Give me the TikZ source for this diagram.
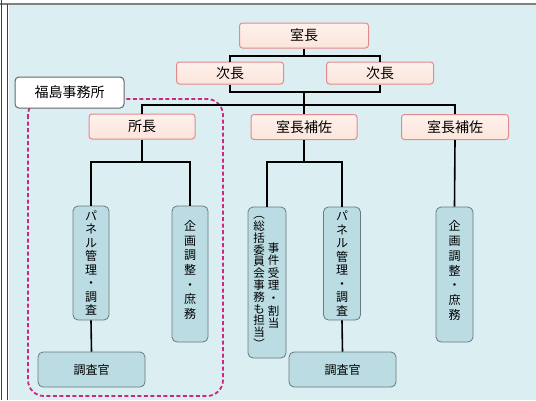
\documentclass[tikz,border=0pt]{standalone}
\usepackage{fontspec}
\newfontfamily\jp{Noto Sans CJK JP}
\definecolor{bgcyan}{RGB}{219,239,243}
\definecolor{pinkfill}{RGB}{252,229,219}
\definecolor{pinkline}{RGB}{226,138,142}
\definecolor{tealfill}{RGB}{186,220,226}
\definecolor{tealline}{RGB}{105,122,126}
\definecolor{dashmag}{RGB}{205,40,125}
\begin{document}
\begin{tikzpicture}[x=1pt,y=-1pt,
  pinkbox/.style={draw=pinkline, top color=pinkfill!55, bottom color=pinkfill, rounded corners=3pt, line width=1pt,
    minimum width=106pt, minimum height=25pt, inner sep=0pt,
    font=\jp\fontsize{14}{14}\selectfont},
  tealbox/.style={draw=tealline, fill=tealfill, rounded corners=5pt, line width=0.8pt,
    inner sep=0pt, align=center},
  vtext/.style={inner sep=0pt, align=center, font=\jp\fontsize{12}{13.5}\selectfont},
  vtextsm/.style={inner sep=0pt, align=center, font=\jp\fontsize{11.5}{11.8}\selectfont},
  conn/.style={draw=black, line width=1.6pt}]
\useasboundingbox (0,0) rectangle (536,400);
\fill[white] (0,0) rectangle (536,400);
\fill[bgcyan] (9,5) rectangle (536,400);
\draw[gray, line width=2pt] (0,4) -- (536,4);
\draw[black!75, line width=1pt] (1.5,0) -- (1.5,400);
\draw[black!75, line width=1pt] (7.5,4) -- (7.5,400);

% dashed group
\draw[dashmag, line width=1.8pt, dash pattern=on 4pt off 2.5pt, rounded corners=16pt]
  (28,99) rectangle (223,396);
\node[draw=black!60, fill=white, rounded corners=4pt, line width=1pt, inner sep=0pt,
  minimum width=109pt, minimum height=31pt, font=\jp\fontsize{14}{14}\selectfont]
  (fukushima) at (69.5,92.5) {福島事務所};

% top level
\node[pinkbox, minimum width=129pt] (shitsu) at (304,35.5) {室長};
\node[pinkbox, minimum width=107pt, minimum height=22pt] (j1) at (230,73) {次長};
\node[pinkbox, minimum width=107pt, minimum height=22pt] (j2) at (380,73) {次長};
\node[pinkbox] (shocho) at (142,126.5) {所長};
\node[pinkbox] (hosa1) at (304,127) {室長補佐};
\node[pinkbox, minimum width=107pt] (hosa2) at (455,127) {室長補佐};

% tall boxes
\node[tealbox, minimum width=36pt, minimum height=114pt] (p1) at (91,263) {};
\node[vtext] (p1t) at (p1.center) {パ\\ネ\\ル\\管\\理\\・\\調\\査};
\node[tealbox, minimum width=36pt, minimum height=136pt] (k1) at (190,274) {};
\node[vtext, font=\jp\fontsize{12}{14.7}\selectfont] (k1t) at ([yshift=4pt]k1.center) {企\\画\\調\\整\\・\\庶\\務};

\node[tealbox, minimum width=38pt, minimum height=151pt] (sokatsu) at (267,282.5) {};
\node[vtextsm] (sokL) at ([xshift=-8pt]sokatsu.center) {︵\\総\\括\\委\\員\\会\\事\\務\\も\\担\\当\\︶};
\node[vtextsm, font=\jp\fontsize{11.5}{12.6}\selectfont] (sokR) at ([xshift=6.5pt,yshift=-3pt]sokatsu.center) {事\\件\\受\\理\\・\\割\\当};

\node[tealbox, minimum width=37pt, minimum height=113pt] (p2) at (342,263.5) {};
\node[vtext] (p2t) at (p2.center) {パ\\ネ\\ル\\管\\理\\・\\調\\査};
\node[tealbox, minimum width=37pt, minimum height=135pt] (k2) at (454.5,274.5) {};
\node[vtext, font=\jp\fontsize{12}{14.7}\selectfont] (k2t) at ([yshift=4pt]k2.center) {企\\画\\調\\整\\・\\庶\\務};

\node[tealbox, minimum width=107pt, minimum height=35pt, font=\jp\fontsize{12}{12}\selectfont] (ch1) at (91.5,369.5) {調査官};
\node[tealbox, minimum width=107pt, minimum height=35pt, font=\jp\fontsize{12}{12}\selectfont] (ch2) at (342.5,369.5) {調査官};

% connectors
\coordinate (b1) at (304,56);
\coordinate (b2) at (304,92);
\coordinate (b3) at (304,105);
\coordinate (c1) at (142,162);
\coordinate (c2) at (304,162);
\draw[conn] (shitsu.south) -- (b1);
\draw[conn] (j1.north) |- (b1) -| (j2.north);
\draw[conn] (j1.south) |- (b2) -| (j2.south);
\draw[conn] (b2) -- (hosa1.north);
\draw[conn] (shocho.north) |- (b3) -| (hosa2.north);
\draw[conn] (shocho.south) -- (c1);
\draw[conn] (p1.north) |- (c1) -| (k1.north);
\draw[conn] (hosa1.south) -- (c2);
\draw[conn] (sokatsu.north) |- (c2) -| (p2.north);
\draw[conn] (hosa2.south) -- (k2.north);
\draw[conn] (p1.south) -- (ch1.north);
\draw[conn] (p2.south) -- (ch2.north);
\end{tikzpicture}
\end{document}
